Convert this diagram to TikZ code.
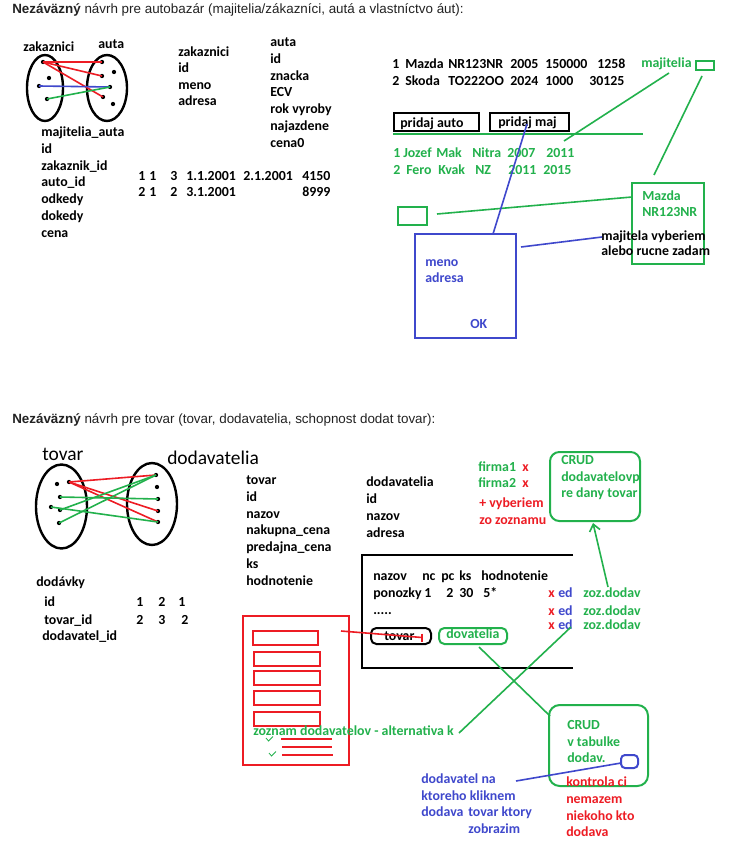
\documentclass[tikz,border=0pt]{standalone}
\usepackage{fontspec}
\setmainfont{Liberation Sans}
\newfontfamily\handfont{Carlito}
\usetikzlibrary{arrows.meta}

\definecolor{pgreen}{RGB}{34,177,76}
\definecolor{pred}{RGB}{237,28,36}
\definecolor{pblue}{RGB}{63,72,204}
\definecolor{headgray}{RGB}{34,34,34}

\begin{document}
\begin{tikzpicture}[x=0.75pt,y=-0.75pt,
  txt/.style={inner sep=0pt, anchor=mid west, font=\handfont\bfseries\fontsize{10.4}{12}\selectfont},
  head/.style={inner sep=0pt, anchor=mid west, text=headgray, font=\fontsize{10.05}{12}\selectfont},
  big/.style={inner sep=0pt, anchor=mid west, font=\handfont\fontsize{14.6}{17}\selectfont},
  setring/.style={draw=black, line width=1.8pt},
  pt/.style={circle, fill=black, inner sep=0pt, minimum size=3.2pt},
  link/.style={line width=1.2pt},
  frame/.style={draw, line width=1.5pt, inner sep=0pt},
  pill/.style={frame, rounded corners=4pt},
]
\useasboundingbox[fill=white] (0,0) rectangle (731,849);

% ---------------- autobazar ----------------
\node[head] (title1) at (12,10) {\textbf{Nezáväzný} návrh pre autobazár (majitelia/zákazníci, autá a vlastníctvo áut):};

% sets of customers and cars
\node[txt] (setZ) at (23,48) {zakaznici};
\node[txt] (setA) at (98,45) {auta};
\draw[setring] (45,88) ellipse [x radius=18, y radius=33];
\draw[setring] (107,88) ellipse [x radius=20, y radius=33];
\foreach \n/\p in {A1/{(43,62)},A2/{(49,78)},A3/{(39,86)},A4/{(47,99)},
                   B1/{(102,62)},B2/{(114,72)},B3/{(102,76)},B4/{(110,87)},B5/{(103,97)},B6/{(113,104)}}
  \node[pt] (\n) at \p {};
\draw[link, pred] (A1.center) -- (B1.center);
\draw[link, pred] (A1.center) -- (B3.center);
\draw[link, pred] (A1.center) -- (B5.center);
\draw[link, pblue] (A3.center) -- (B4.center);
\draw[link, pgreen] (A4.center) -- (B4.center);

% tables
\foreach \t [count=\i] in {zakaznici,id,meno,adresa}
  \node[txt] (zk\i) at (178,{53+16.4*(\i-1)}) {\t};
\foreach \t [count=\i] in {auta,id,znacka,ECV,rok vyroby,najazdene,cena0}
  \node[txt] (au\i) at (270,{43+16.8*(\i-1)}) {\t};
\foreach \t [count=\i] in {majitelia\_auta,id,zakaznik\_id,auto\_id,odkedy,dokedy,cena}
  \node[txt] (ma\i) at (41,{133+16.8*(\i-1)}) {\t};

\foreach \x/\t [count=\i] in {138/1,149/1,170/3,186/1.1.2001,243/2.1.2001,302/4150}
  \node[txt] (r1c\i) at (\x,177) {\t};
\foreach \x/\t [count=\i] in {138/2,149/1,170/2,186/3.1.2001,302/8999}
  \node[txt] (r2c\i) at (\x,193) {\t};

\foreach \x/\t [count=\i] in {392/1,405/Mazda,448/NR123NR,510/2005,545/150000,597/1258}
  \node[txt] (c1c\i) at (\x,65) {\t};
\foreach \x/\t [count=\i] in {392/2,405/Skoda,448/TO222OO,510/2024,545/1000,589/30125}
  \node[txt] (c2c\i) at (\x,82) {\t};

\node[txt, pgreen] (majl) at (641,64) {majitelia};
\node[frame, draw=pgreen, minimum width=13.5pt, minimum height=6.75pt] (majbtn) at (705,65.5) {};

% buttons
\node[frame, minimum width=63.75pt, minimum height=13.5pt] (btnAuto) at (436.5,122) {};
\node[txt] (btnAutoT) at (400,124) {pridaj auto};
\node[frame, minimum width=59.25pt, minimum height=13.5pt] (btnMaj) at (529.5,122) {};
\node[txt] (btnMajT) at (498,123) {pridaj maj};
\coordinate (rulerL) at (393,134);
\coordinate (rulerR) at (643,134);
\draw[link, pgreen] (rulerL) -- (rulerR);

\foreach \x/\t [count=\i] in {393/1,403/Jozef,436/Mak,472/Nitra,507/2007,546/2011}
  \node[txt, pgreen] (o1c\i) at (\x,154) {\t};
\foreach \x/\t [count=\i] in {393/2,406/Fero,438/Kvak,475/NZ,508/2011,543/2015}
  \node[txt, pgreen] (o2c\i) at (\x,171) {\t};

% car popup
\node[frame, draw=pgreen, minimum width=54pt, minimum height=60.75pt] (carBox) at (668,223.5) {};
\node[txt, pgreen] (carT1) at (642,197) {Mazda};
\node[txt, pgreen] (carT2) at (642,213) {NR123NR};
\node[frame, draw=pgreen, minimum width=21.75pt, minimum height=13.5pt] (ownBtn) at (412.5,216) {};
\node[txt] (note1) at (601,237) {majitela vyberiem};
\node[txt] (note2) at (601,252) {alebo rucne zadam};

% owner form
\node[frame, draw=pblue, minimum width=75.75pt, minimum height=78pt] (form) at (465.5,286) {};
\node[txt, pblue] (fm1) at (425,263) {meno};
\node[txt, pblue] (fm2) at (425,279) {adresa};
\node[txt, pblue] (fmOK) at (470,325) {OK};

% connectors of the autobazar sketch
\coordinate (majTip) at (669,73);
\coordinate (listTip) at (564,141);
\draw[link, pgreen] (majTip) -- (listTip);
\coordinate (btnTip) at (702,76);
\coordinate (carTip) at (654,175);
\draw[link, pgreen] (btnTip) -- (carTip);
\coordinate (ownTip) at (437,214);
\coordinate (carLeft) at (632,197);
\draw[link, pgreen] (ownTip) -- (carLeft);
\coordinate (majBtnTip) at (527,124);
\coordinate (formTop) at (493,234);
\draw[link, pblue] (majBtnTip) -- (formTop);
\coordinate (formTip) at (521,247);
\coordinate (noteTip) at (602,237);
\draw[link, pblue] (formTip) -- (noteTip);

% ---------------- tovar ----------------
\node[head] (title2) at (12,420) {\textbf{Nezáväzný} návrh pre tovar (tovar, dodavatelia, schopnost dodat tovar):};

\node[big] (setT) at (42,457) {tovar};
\node[big] (setD) at (167,461) {dodavatelia};
\draw[setring] (61.5,506.5) ellipse [x radius=25.5, y radius=42];
\draw[setring] (152,504) ellipse [x radius=25, y radius=41];
\foreach \n/\p in {L1/{(57,484)},L2/{(69,482)},L3/{(60,497)},L4/{(51,507)},L5/{(60,510)},L6/{(59,523)},
                   R1/{(156,475)},R2/{(157,487)},R3/{(158,499)},R4/{(158,511)},R5/{(158,522)}}
  \node[pt] (\n) at \p {};
\draw[link, pred] (L2.center) -- (R1.center);
\draw[link, pred] (L2.center) -- (R4.center);
\draw[link, pred] (L2.center) -- (R5.center);
\draw[link, pgreen] (L3.center) -- (R3.center);
\draw[link, pgreen] (L5.center) -- (R1.center);
\draw[link, pgreen] (L6.center) -- (R1.center);
\draw[link, pgreen] (L4.center) -- (R5.center);

\node[txt] (dodT) at (36,583) {dodávky};
\node[txt] (dd1) at (44,603) {id};
\node[txt] (dd2) at (44,621) {tovar\_id};
\node[txt] (dd3) at (42,637) {dodavatel\_id};
\foreach \x/\t [count=\i] in {136/1,158/2,178/1}
  \node[txt] (n1c\i) at (\x,603) {\t};
\foreach \x/\t [count=\i] in {136/2,158/3,181/2}
  \node[txt] (n2c\i) at (\x,621) {\t};

\foreach \t [count=\i] in {tovar,id,nazov,nakupna\_cena,predajna\_cena,ks,hodnotenie}
  \node[txt] (tv\i) at (246,{481+16.8*(\i-1)}) {\t};
\foreach \t [count=\i] in {dodavatelia,id,nazov,adresa}
  \node[txt] (dv\i) at (366,{483+17*(\i-1)}) {\t};

\node[txt, pgreen] (f1) at (478,468) {firma1};
\node[txt, pred] (f1x) at (522,468) {x};
\node[txt, pgreen] (f2) at (478,484) {firma2};
\node[txt, pred] (f2x) at (522,484) {x};
\node[txt, pred] (pick1) at (479,504) {+ vyberiem};
\node[txt, pred] (pick2) at (479,521) {zo zoznamu};

\node[frame, draw=pgreen, rounded corners=7pt, minimum width=67.5pt, minimum height=51.75pt] (crud1) at (595,486.5) {};
\node[txt, pgreen] (cr1a) at (561,461) {CRUD};
\node[txt, pgreen] (cr1b) at (561,478) {dodavatelovp};
\node[txt, pgreen] (cr1c) at (561,494) {re dany tovar};

% product list frame
\coordinate (frTR) at (573,555);
\coordinate (frTL) at (362,555);
\coordinate (frBL) at (362,668);
\coordinate (frBR) at (573,668);
\draw[line width=2.2pt] (frTR) -- (frTL) -- (frBL) -- (frBR);

\foreach \x/\t [count=\i] in {373/nazov,422/nc,441/pc,459/ks,481/hodnotenie}
  \node[txt] (h\i) at (\x,577) {\t};
\foreach \x/\t [count=\i] in {373/ponozky,424/1,446/2,459/30,483/5*}
  \node[txt] (p\i) at (\x,594) {\t};
\node[txt, anchor=base west] (more) at (373,614) {.....};

\foreach \y [count=\i] in {594,612,626} {
  \node[txt, pred] (xx\i) at (548,\y) {x};
  \node[txt, pblue] (ed\i) at (558,\y) {ed};
  \node[txt, pgreen] (zz\i) at (583,\y) {zoz.dodav};
}

\node[pill, minimum width=45pt, minimum height=12pt] (tovBtn) at (401,636) {};
\node[txt] (tovBtnT) at (384,637) {tovar};
\node[pill, draw=pgreen, minimum width=51pt, minimum height=12pt] (dovBtn) at (473,636) {};
\node[txt, pgreen] (dovBtnT) at (446,635) {dovatelia};

% red alternative list
\node[frame, draw=pred, line width=1.2pt, minimum width=79.5pt, minimum height=111.75pt] (alt) at (296,690.5) {};
\foreach \ya/\xa/\xb [count=\i] in {631/253/318,652/254/320,671/254/320,691/254/320,712/254/320}
  \draw[pred, line width=1.2pt] (\xa,\ya) rectangle (\xb,\ya+14);
\node[txt, pgreen] (altT) at (253,732) {zoznam dodavatelov - alternativa k};
\draw[pgreen, line width=0.6pt] (266,738) -- (268.5,741) -- (273,736.5);
\draw[pgreen, line width=0.6pt] (269,753) -- (271.5,756) -- (276,751.5);
\draw[pred, line width=1.2pt] (281,739) -- (332,739);
\draw[pred, line width=1.2pt] (282,747) -- (332,747);
\draw[pred, line width=1.2pt] (282,755) -- (333,755);

\node[frame, draw=pgreen, rounded corners=8pt, minimum width=74.25pt, minimum height=60.75pt] (crud2) at (598.5,745.5) {};
\node[txt, pgreen] (cr2a) at (567,726) {CRUD};
\node[txt, pgreen] (cr2b) at (567,743) {v tabulke};
\node[txt, pgreen] (cr2c) at (567,759) {dodav.};
\node[pill, draw=pblue, rounded corners=3pt, minimum width=12.75pt, minimum height=9.75pt] (delBtn) at (629.5,761.5) {};

\node[txt, pblue] (bl1) at (421,780) {dodavatel na};
\node[txt, pblue] (bl2) at (421,797) {ktoreho kliknem};
\node[txt, pblue] (bl3) at (421,813) {dodava};
\node[txt, pblue] (bl3b) at (468,813) {tovar ktory};
\node[txt, pblue] (bl4) at (468,830) {zobrazim};

\node[txt, pred] (rd1) at (566,783) {kontrola ci};
\node[txt, pred] (rd2) at (566,800) {nemazem};
\node[txt, pred] (rd3) at (566,817) {niekoho kto};
\node[txt, pred] (rd4) at (566,833) {dodava};

% connectors of the tovar sketch
\coordinate (zzTip) at (608,587);
\coordinate (crudTip) at (593,523);
\draw[link, pgreen, -{Straight Barb[length=5pt, width=8pt]}] (zzTip) -- (crudTip);
\coordinate (altTip) at (341,631);
\coordinate (tovTip) at (422,637.5);
\draw[link, pred] (altTip) -- (tovTip);
\draw[link, pred] ([yshift=3pt]tovTip) -- ([yshift=-3pt]tovTip);
\coordinate (altTxtTip) at (459,733);
\coordinate (zzLow) at (571,627);
\draw[link, pgreen] (altTxtTip) -- (zzLow);
\coordinate (dovTip) at (479,647);
\coordinate (crud2Left) at (550,716);
\draw[link, pgreen] (dovTip) -- (crud2Left);
\coordinate (delTip) at (621,763);
\coordinate (blueTip) at (516,781);
\draw[link, pblue] (delTip) -- (blueTip);
\end{tikzpicture}
\end{document}
